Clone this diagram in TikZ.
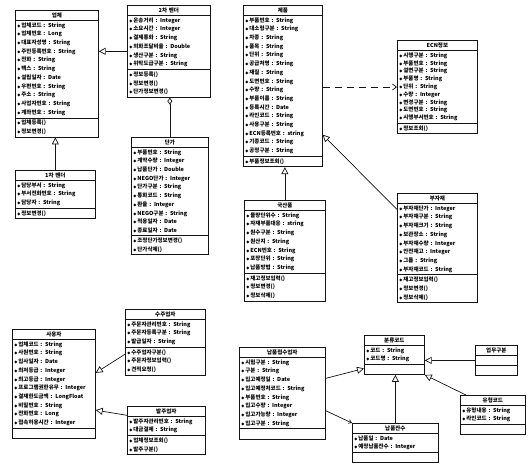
\documentclass[tikz,border=0pt]{standalone}
\usepackage{fontspec}
\setmainfont{Noto Sans CJK KR}
\newfontfamily\simbolo{DejaVu Sans}
\usetikzlibrary{arrows.meta}
\usetikzlibrary{shapes.multipart}
\usetikzlibrary{calc}
\definecolor{figTinta}{RGB}{20,20,20}
\newcommand{\atr}{{\simbolo\fontsize{4}{4}\selectfont ◆}\hspace{1pt}}
\newcommand{\fin}{\par\vspace{5pt}}
\newcommand{\titulo}[1]{{\centering #1\par}}
\tikzset{
  clase/.style={
    rectangle split, rectangle split parts=3, draw=figTinta, line width=0.7pt,
    anchor=north west, text width=#1, align=left, inner xsep=2pt, inner ysep=2pt,
    font=\fontsize{5.5}{8.7}\selectfont\bfseries, rectangle split empty part height=3pt
  },
  herencia/.style={-{Triangle[open, length=7pt, width=7pt]}, line width=0.7pt, draw=figTinta},
  dependencia/.style={-{Straight Barb[length=4pt, width=6pt]}, line width=0.7pt, draw=figTinta, dash pattern=on 7pt off 5pt},
  agregacion/.style={-{Diamond[open, length=7pt, width=5pt]}, line width=0.7pt, draw=figTinta},
  asociacion/.style={-{Straight Barb[length=3pt, width=4pt]}, line width=0.7pt, draw=figTinta}
}
\begin{document}
\begin{tikzpicture}[x=1pt, y=-1pt]
  \useasboundingbox (0,0) rectangle (529,465);
  % clases de la izquierda
  \node[clase=79pt] (upche) at (15,10) {\titulo{업체}
    \nodepart{second}\atr 업체코드 : String\\ \atr 업체번호 : Long\\ \atr 대표자성명 : String\\
    \atr 주민등록번호 : String\\ \atr 전화 : String\\ \atr 팩스 : String\\ \atr 설립일자 : Date\\
    \atr 우편번호 : String\\ \atr 주소 : String\\ \atr 사업자번호 : String\\ \atr 계좌번호 : String
    \nodepart{third}\atr 업체등록()\\ \atr 정보변경()\fin};
  \node[clase=76pt] (vendor1) at (15,170) {\titulo{1차 벤더}
    \nodepart{second}\atr 담당부서 : String\\ \atr 부서전화번호 : String\\ \atr 담당자 : String\fin
    \nodepart{third}\atr 정보변경()\fin};
  \node[clase=79pt] (vendor2) at (127,5) {\titulo{2차 벤더}
    \nodepart{second}\atr 운송거리 : Integer\\ \atr 소요시간 : Integer\\ \atr 결제통화 : String\\
    \atr 외화조달비율 : Double\\ \atr 생산구분 : String\\ \atr 위탁도급구분 : String
    \nodepart{third}\atr 정보등록()\\ \atr 정보변경()\\ \atr 단가정보변경()\fin};
  \node[clase=73pt] (danga) at (131,137) {\titulo{단가}
    \nodepart{second}\atr 부품번호 : String\\ \atr 계약수량 : Integer\\ \atr 납품단가 : Double\\
    \atr NEGO단가 : Integer\\ \atr 단가구분 : String\\ \atr 통화코드 : String\\ \atr 환율 : Integer\\
    \atr NEGO구분 : String\\ \atr 적용일자 : Date\\ \atr 종료일자 : Date
    \nodepart{third}\atr 조정단가정보변경()\\ \atr 단가삭제()\fin};
  % clases de productos
  \node[clase=75pt] (jepum) at (243,5) {\titulo{제품}
    \nodepart{second}\atr 부품번호 : String\\ \atr 대소형구분 : String\\ \atr 차종 : String\\
    \atr 품목 : String\\ \atr 단위 : String\\ \atr 공급처명 : String\\ \atr 재질 : String\\
    \atr 도면번호 : String\\ \atr 수량 : String\\ \atr 부품이름 : String\\ \atr 등록시간 : Date\\
    \atr 라인코드 : String\\ \atr 사용구분 : String\\ \atr ECN등록번호 : string\\
    \atr 기종코드 : String\\ \atr 공정구분 : String
    \nodepart{third}\atr 부품정보조회()\fin};
  \node[clase=76pt, font=\fontsize{5.5}{7.8}\selectfont\bfseries] (ecn) at (397,40) {\titulo{ECN정보}
    \nodepart{second}\atr 시행구분 : String\\ \atr 부품번호 : String\\ \atr 설변구분 : String\\
    \atr 부품명 : String\\ \atr 단위 : String\\ \atr 수량 : Integer\\ \atr 변경구분 : String\\
    \atr 도면번호 : String\\ \atr 시행부서번호 : String
    \nodepart{third}\atr 정보조회()\fin};
  \node[clase=77pt] (gukpum) at (244,200) {\titulo{국산품}
    \nodepart{second}\atr 물량단위수 : String\\ \atr 자재부품대응 : string\\ \atr 원수구분 : String\\
    \atr 원산지 : String\\ \atr ECN번호 : String\\ \atr 포장단위 : String\\ \atr 납품방법 : String
    \nodepart{third}\atr 재고정보입력()\\ \atr 정보변경()\\ \atr 정보삭제()\fin};
  \node[clase=76pt] (bujajae) at (397,193) {\titulo{부자재}
    \nodepart{second}\atr 부자재단가 : Integer\\ \atr 부자재구분 : String\\ \atr 부자재크기 : String\\
    \atr 보관장소 : String\\ \atr 부자재수량 : Integer\\ \atr 안전재고 : Integer\\ \atr 그룹 : String\\
    \atr 부자재코드 : String
    \nodepart{third}\atr 재고정보입력()\\ \atr 정보변경()\\ \atr 정보삭제()\fin};
  % usuarios
  \node[clase=79pt] (sayongja) at (12,329) {\titulo{사용자}
    \nodepart{second}\atr 업체코드 : String\\ \atr 사원번호 : String\\ \atr 입사일자 : Date\\
    \atr 최저등급 : Integer\\ \atr 최고등급 : Integer\\ \atr 프로그램권한유무 : Integer\\
    \atr 결재한도금액 : LongFloat\\ \atr 비밀번호 : String\\ \atr 전화번호 : Long\\
    \atr 접속허용시간 : Integer};
  \node[clase=76pt] (suju) at (125,309) {\titulo{수주업자}
    \nodepart{second}\atr 주문자관리번호 : String\\ \atr 주문자등록구분 : String\\ \atr 발급일자 : String
    \nodepart{third}\atr 수주업자구분()\\ \atr 주문자정보입력()\\ \atr 견적요청()\fin};
  \node[clase=74pt] (balju) at (127,406) {\titulo{발주업자}
    \nodepart{second}\atr 발주자관리번호 : String\\ \atr 대금결제 : String
    \nodepart{third}\atr 업체정보조회()\\ \atr 발주구분()\fin};
  % codigos
  \node[clase=82pt] (napum) at (239,347) {\titulo{납품접수업자}
    \nodepart{second}\atr 시험구분 : String\\ \atr 구분 : String\\ \atr 입고예정일 : Date\\
    \atr 입고예정처코드 : String\\ \atr 부품번호 : String\\ \atr 입고수량 : Integer\\
    \atr 입고가능량 : Integer\\ \atr 입고구분 : String};
  \node[clase=56pt] (bunryu) at (364,335) {\titulo{분류코드}
    \nodepart{second}\atr 코드 : String\\ \atr 코드명 : String};
  \node[clase=38pt, rectangle split empty part height=1pt] (eommu) at (475,345) {\titulo{업무구분}};
  \node[clase=61pt] (yuhyeong) at (460,395) {\titulo{유형코드}
    \nodepart{second}\atr 유형내용 : String\\ \atr 라인코드 : String};
  \node[clase=82pt] (jansu) at (352,423) {\titulo{납품잔수}
    \nodepart{second}\atr 납품일 : Date\\ \atr 예정납품잔수 : Integer};

  \draw[herencia] (vendor1.north) -- (vendor1.north |- upche.south);
  \draw[herencia] (vendor2.west) -- (vendor2.west -| upche.east);
  \draw[agregacion] (danga.north) -- (danga.north |- vendor2.south);
  \draw[dependencia] (ecn.west -| jepum.east) -- (ecn.west);
  \draw[herencia] (gukpum.north) -- (gukpum.north |- jepum.south);
  \draw[herencia] ($(bujajae.north west)!0.15!(bujajae.south west)$) -- ($(jepum.north east)!0.8!(jepum.south east)$);
  \draw[herencia] ($(suju.north west)!0.68!(suju.south west)$) -- ($(sayongja.north east)!0.4!(sayongja.south east)$);
  \draw[herencia] ($(balju.north west)!0.19!(balju.south west)$) -- ($(sayongja.north east)!0.74!(sayongja.south east)$);
  \draw[herencia] ($(napum.north east)!0.34!(napum.south east)$) -- ($(bunryu.north west)!0.84!(bunryu.south west)$);
  \draw[asociacion] ($(napum.north east)!0.69!(napum.south east)$) -- (jansu.north west);
  \draw[herencia] (eommu.west) -- (eommu.west -| bunryu.east);
  \draw[herencia] ($(yuhyeong.north west)+(6,0)$) -- (bunryu.south east);
  \draw[herencia] (jansu.north) -- (jansu.north |- bunryu.south);
\end{tikzpicture}
\end{document}
